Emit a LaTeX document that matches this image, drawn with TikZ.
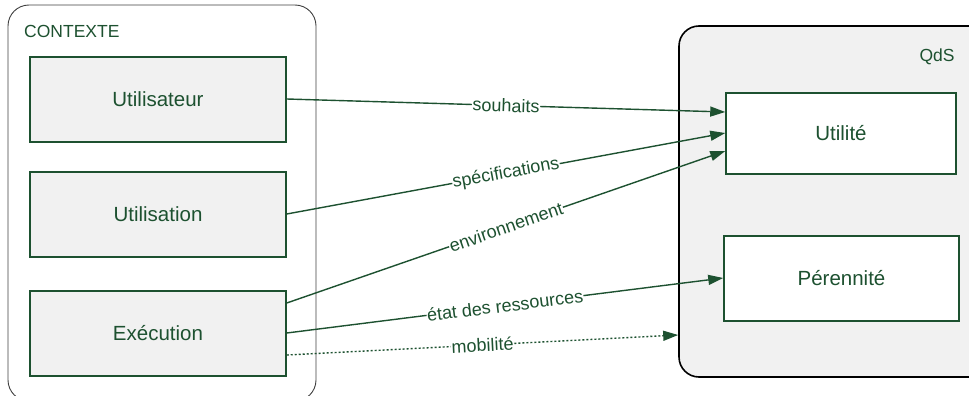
\documentclass[tikz,border=0pt]{standalone}
\usepackage{fontspec}
\setmainfont{Liberation Sans}
\usetikzlibrary{arrows.meta}
\definecolor{dg}{HTML}{1D5130}
\definecolor{lg}{HTML}{F1F1F1}
\tikzset{
  ctxbox/.style={draw=black!75, line width=0.9pt, rounded corners=21pt, fill=white, inner sep=0pt},
  qdsbox/.style={draw=black, line width=1.6pt, rounded corners=20pt, fill=lg, inner sep=0pt},
  inbox/.style={draw=dg, line width=1.5pt, fill=lg, text=dg, font=\fontsize{20.5}{22}\selectfont, inner sep=0pt},
  outbox/.style={draw=dg, line width=1.5pt, fill=white, text=dg, font=\fontsize{20.5}{22}\selectfont, inner sep=0pt},
  grp/.style={text=dg, font=\fontsize{17.5}{19}\selectfont, inner sep=0pt},
  conn/.style={draw=dg, line width=1.4pt, -{Triangle[length=15pt,width=10pt]}},
  lbl/.style={text=dg, font=\fontsize{18}{20}\selectfont, fill=white, inner sep=0.5pt, sloped, midway}
}
\begin{document}
\begin{tikzpicture}[x=1pt,y=-1pt]
\useasboundingbox (0,0) rectangle (969,396);
% containers
\node[ctxbox, minimum width=308pt, minimum height=396pt] (ctx) at (162,203) {};
\node[qdsbox, minimum width=310pt, minimum height=351pt] (qds) at (834,201.5) {};
\node[grp, anchor=west] (ctxl) at (24,31) {CONTEXTE};
\node[grp] (qdsl) at (937,57) {QdS};
% inner boxes
\node[inbox, minimum width=256pt, minimum height=85pt] (uteur) at (158,99.5) {Utilisateur};
\node[inbox, minimum width=256pt, minimum height=85pt] (usat) at (158,214.5) {Utilisation};
\node[inbox, minimum width=256pt, minimum height=85pt] (exec) at (158,333.5) {Exécution};
\node[outbox, minimum width=230pt, minimum height=81pt] (util) at (841,133.5) {Utilité};
\node[outbox, minimum width=235pt, minimum height=85pt] (pere) at (841.5,278.5) {Pérennité};
% connectors
\coordinate (a1) at (uteur.east |- 0,99);
\coordinate (b1) at (util.west |- 0,112);
\coordinate (a2) at (usat.east |- 0,214);
\coordinate (b2) at (util.west |- 0,133);
\coordinate (a3) at (exec.east |- 0,303);
\coordinate (b3) at (util.west |- 0,151);
\coordinate (a4) at (exec.east |- 0,333);
\coordinate (b4) at (pere.west |- 0,278);
\coordinate (a5) at (exec.east |- 0,355);
\coordinate (b5) at (qds.west |- 0,335);
\draw[conn] (a1) -- node[lbl] {souhaits} (b1);
\draw[conn] (a2) -- node[lbl] {spécifications} (b2);
\draw[conn] (a3) -- node[lbl] {environnement} (b3);
\draw[conn] (a4) -- node[lbl] {état des ressources} (b4);
\draw[conn, dash pattern=on 2pt off 2pt] (a5) -- node[lbl] {mobilité} (b5);
\end{tikzpicture}
\end{document}
